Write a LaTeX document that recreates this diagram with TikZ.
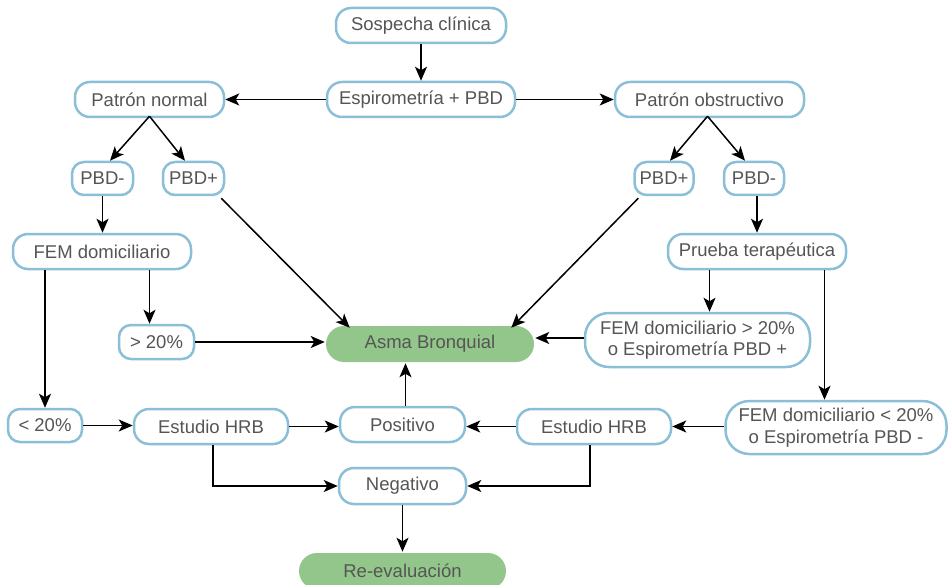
\documentclass[tikz,border=0pt]{standalone}
\usepackage{fontspec}
\setmainfont{Liberation Sans}
\usetikzlibrary{arrows.meta}
\definecolor{bordc}{RGB}{139,191,216}
\definecolor{greenc}{RGB}{147,198,138}
\definecolor{txtc}{RGB}{85,85,85}
\begin{document}
\begin{tikzpicture}[x=1pt,y=-1pt,
  box/.style={draw=bordc, line width=2.5pt, rounded corners=15pt, fill=white, text=txtc,
    font=\fontsize{18.5}{21.5}\selectfont, inner sep=0pt, align=center},
  bigbox/.style={box, rounded corners=24pt},
  greenbox/.style={box, draw=none, fill=greenc, rounded corners=18pt},
  arr/.style={draw=black, line width=1.5pt, -{Stealth[length=14pt,width=12pt,inset=3.5pt]}}]
\useasboundingbox (0,0) rectangle (949,585);
% nodes
\node[box, minimum width=170pt, minimum height=35pt] (sos) at (421,25.5) {Sospecha clínica};
\node[box, minimum width=188pt, minimum height=35pt] (esp) at (421,99.5) {Espirometría + PBD};
\node[box, minimum width=149pt, minimum height=35pt] (pn) at (149.5,99.5) {Patrón normal};
\node[box, minimum width=189pt, minimum height=35pt] (po) at (709.5,99.5) {Patrón obstructivo};
\node[box, minimum width=61pt, minimum height=33pt, rounded corners=12pt] (pbdmL) at (102.5,178.5) {PBD-};
\node[box, minimum width=61pt, minimum height=33pt, rounded corners=12pt] (pbdpL) at (193.5,178.5) {PBD+};
\node[box, minimum width=59pt, minimum height=33pt, rounded corners=12pt] (pbdpR) at (664,178.5) {PBD+};
\node[box, minimum width=60pt, minimum height=33pt, rounded corners=12pt] (pbdmR) at (754,178.5) {PBD-};
\node[box, minimum width=178pt, minimum height=35pt] (femL) at (102,251.5) {FEM domiciliario};
\node[box, minimum width=178pt, minimum height=35pt] (prueba) at (757,251.5) {Prueba terapéutica};
\node[box, minimum width=75pt, minimum height=34pt, rounded corners=12pt] (gt) at (156.5,342) {> 20\%};
\node[greenbox, minimum width=208pt, minimum height=36pt] (asma) at (430,344) {Asma Bronquial};
\node[bigbox, minimum width=225pt, minimum height=54pt] (femgt) at (697.5,340) {FEM domiciliario > 20\%\\o Espirometría PBD +};
\node[box, minimum width=74pt, minimum height=33pt, rounded corners=12pt] (lt) at (45,425.5) {< 20\%};
\node[box, minimum width=154pt, minimum height=35pt] (hrbL) at (211,426.5) {Estudio HRB};
\node[box, minimum width=125pt, minimum height=35pt] (pos) at (402.5,424.5) {Positivo};
\node[box, minimum width=154pt, minimum height=35pt] (hrbR) at (594,426.5) {Estudio HRB};
\node[bigbox, minimum width=221pt, minimum height=53pt] (femlt) at (836,427.5) {FEM domiciliario < 20\%\\o Espirometría PBD -};
\node[box, minimum width=127pt, minimum height=36pt] (neg) at (402.5,486) {Negativo};
\node[greenbox, minimum width=207pt, minimum height=36pt] (reeval) at (402.5,571) {Re-evaluación};
% connectors
\draw[arr] (sos) -- (esp);
\draw[arr] (esp) -- (pn);
\draw[arr] (esp) -- (po);
\draw[arr] ([yshift=2pt]pn.south) -- ([xshift=7.5pt]pbdmL.north);
\draw[arr] ([yshift=2pt]pn.south) -- ([xshift=-8.5pt]pbdpL.north);
\draw[arr] ([yshift=2pt,xshift=-2pt]po.south) -- ([xshift=6pt]pbdpR.north);
\draw[arr] ([yshift=2pt,xshift=-2pt]po.south) -- ([xshift=-9pt]pbdmR.north);
\draw[arr] (pbdmL) -- (pbdmL.south |- femL.north);
\draw[arr] ([xshift=3pt]pbdmR.south) -- ([xshift=3pt]pbdmR.south |- prueba.north);
\draw[arr] (lt.north |- femL.south) -- (lt.north);
\draw[arr] ([xshift=-7pt]gt.north |- femL.south) -- ([xshift=-7pt]gt.north);
\draw[arr] ([xshift=12pt]femgt.north |- prueba.south) -- ([xshift=12pt]femgt.north);
\draw[arr] ([xshift=-11.5pt]femlt.north |- prueba.south) -- ([xshift=-11.5pt]femlt.north);
\draw[arr] ([xshift=-4pt,yshift=-2pt]pbdpL.south east) -- ([xshift=25pt,yshift=-3pt]asma.north west);
\draw[arr] ([xshift=5pt,yshift=-2pt]pbdpR.south west) -- ([xshift=-24pt,yshift=-3pt]asma.north east);
\draw[arr] (gt) -- (gt -| asma.west);
\draw[arr] ([yshift=2pt]femgt.west) -- ([yshift=2pt]femgt.west -| asma.east);
\draw[arr] (lt.east) -- (lt.east -| hrbL.west);
\draw[arr] (hrbL.east) -- (hrbL.east -| pos.west);
\draw[arr] (hrbR.west) -- (hrbR.west -| pos.east);
\draw[arr] (femlt.west |- hrbR.east) -- (hrbR.east);
\draw[arr] ([xshift=3pt]pos.north) -- ([xshift=3pt]pos.north |- asma.south);
\draw[arr] ([xshift=2pt]hrbL.south) |- (neg.west);
\draw[arr] ([xshift=-4pt]hrbR.south) |- (neg.east);
\draw[arr] (neg.south) -- (neg.south |- reeval.north);
\end{tikzpicture}
\end{document}
